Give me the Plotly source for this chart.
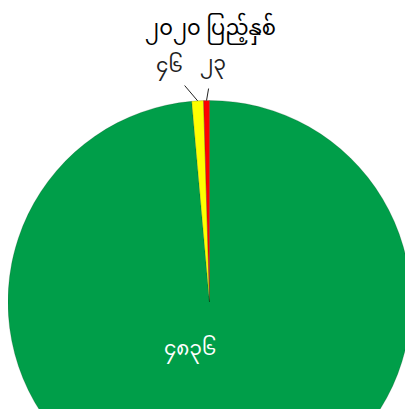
import math
import plotly.graph_objects as go

# ---- data ----
title_text = "၂၀၂၀ ပြည့်နှစ်"
categories = ["A", "B", "C"]
values = [4836, 46, 23]
value_labels = ["၄၈၃၆", "၄၆", "၂၃"]
colors = ["#009E49", "#FFFF00", "#FF0000"]

# ---- layout geometry (page body adds an 8px offset) ----
W, H = 405, 510
ML, MR, MT, MB = 0, 2, 92, 14
PW, PH = W - ML - MR, H - MT - MB
R = min(PW, PH) / 2
CX, CY = ML + PW / 2, MT + PH / 2

FONT = "Noto Sans Myanmar, Padauk, Myanmar Text, Noto Sans, DejaVu Sans"

fig = go.Figure(go.Pie(
    labels=categories,
    values=values,
    textinfo="none",
    sort=False,
    direction="clockwise",
    rotation=0,
    marker=dict(colors=colors, line=dict(color="rgba(0,60,20,0.35)", width=0.6)),
    hoverinfo="label+value",
    showlegend=False,
))

total = sum(values)
offsets = {1: (-28, -33), 2: (6, -35)}
cum = 0
annotations = []
for i, v in enumerate(values):
    mid = cum + v / 2
    cum += v
    if i == 0:
        # label of the large slice, inside the pie
        annotations.append(dict(
            x=0.452, y=0.381, xref="paper", yref="paper", showarrow=False,
            text=value_labels[i], font=dict(size=20, color="white", family=FONT),
        ))
        continue
    theta = 2 * math.pi * mid / total
    px = CX + R * math.sin(theta)
    py = CY - R * math.cos(theta)
    ax, ay = offsets[i]
    annotations.append(dict(
        x=(px - ML) / PW, y=1 - (py - MT) / PH, xref="paper", yref="paper",
        text=value_labels[i], showarrow=True, arrowhead=0, arrowwidth=1,
        arrowcolor="#222222", ax=ax, ay=ay, standoff=0,
        font=dict(size=20, color="#222222", family=FONT),
    ))

fig.update_layout(
    width=W, height=H,
    margin=dict(l=ML, r=MR, t=MT, b=MB),
    paper_bgcolor="white",
    title=dict(text=title_text, x=0.5, xanchor="center", y=1 - 20 / H, yanchor="middle",
               font=dict(size=21, color="black", family=FONT)),
    annotations=annotations,
)

fig.write_html("out.html")
